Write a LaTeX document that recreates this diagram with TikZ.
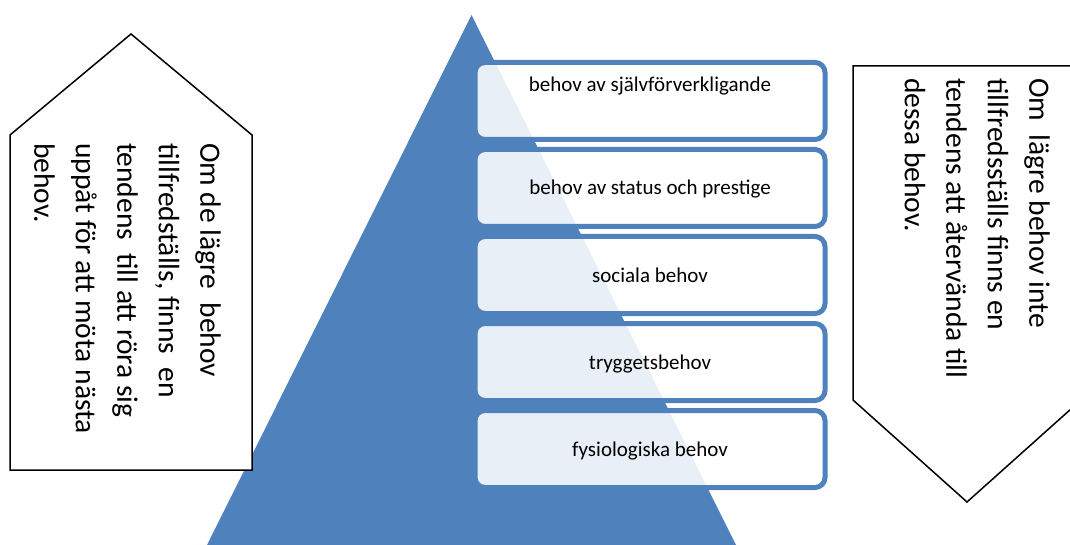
\documentclass[tikz,border=0pt]{standalone}
\usepackage{fontspec}
\setmainfont{Carlito}
\definecolor{pyr}{HTML}{4F81BD}
\begin{document}
\begin{tikzpicture}[x=1pt,y=-1pt,
  level/.style={draw=pyr, line width=5pt, rounded corners=10pt, fill=white,
    fill opacity=0.88, minimum width=350pt, minimum height=77pt, inner sep=0pt},
  lbl/.style={font=\fontsize{21}{25}\selectfont, anchor=base, inner sep=0pt},
  side/.style={draw=black, line width=1.5pt, fill=white, line join=miter},
  sidetext/.style={font=\fontsize{29.5}{41.5}\selectfont, align=left,
    rotate=-90, anchor=north west, inner sep=0pt}]
\useasboundingbox (0,0) rectangle (1070,545);
\clip (0,0) rectangle (1070,545);

% pyramid
\fill[pyr] (471.5,15) -- (736,545) -- (207,545) -- cycle;

% upward house shape on the left
\draw[side] (131,34) -- (252,135) -- (252,470) -- (10,470) -- (10,135) -- cycle;
\node[sidetext] (lt) at (221,143)
  {Om de lägre\ \ behov\\tillfredställs, finns\ \ en\\tendens\ \ till att röra sig\\uppåt för att möta nästa\\behov.};

% downward arrow shape on the right
\draw[side] (853,66) -- (1081,66) -- (1081,400) -- (967,502) -- (853,400) -- cycle;
\node[sidetext] (rt) at (1050,78)
  {Om\ \ lägre behov inte\\tillfredsställs finns en\\tendens att återvända till\\dessa behov.};

% need levels
\foreach \i/\n in {0/b1,1/b2,2/b3,3/b4,4/b5}
  \node[level] (\n) at (650,{101+87*\i}) {};

\node[lbl] (t1) at (650,92) {behov av självförverkligande};
\node[lbl] (t2) at (650,195) {behov av status och prestige};
\node[lbl] (t3) at (650,282) {sociala behov};
\node[lbl] (t4) at (650,369) {tryggetsbehov};
\node[lbl] (t5) at (650,456) {fysiologiska behov};
\end{tikzpicture}
\end{document}
